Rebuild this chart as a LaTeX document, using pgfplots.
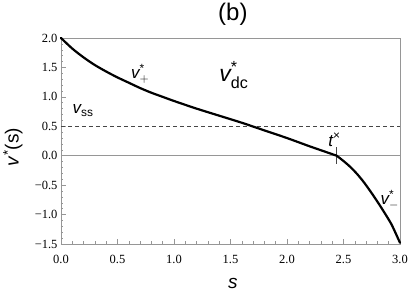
\documentclass[border=0pt]{standalone}
\usepackage{pgfplots}
\pgfplotsset{compat=1.18}
\usepackage{amsmath}
\usepackage{fontspec}
\setmainfont{Liberation Sans}
\newfontfamily\tickfont{Liberation Serif}
\definecolor{framegray}{RGB}{150,150,150}
\definecolor{dashgray}{RGB}{70,70,70}
\begin{document}
\begin{tikzpicture}
\begin{axis}[
 at={(0pt,0pt)}, anchor=south west,
 scale only axis, width=339pt, height=206pt,
 xmin=0, xmax=3, ymin=-1.5, ymax=2,
 xtick={0,0.5,1,1.5,2,2.5,3},
 ytick={-1.5,-1,-0.5,0,0.5,1,1.5,2},
 xticklabels={0.0,0.5,1.0,1.5,2.0,2.5,3.0},
 yticklabels={−1.5,−1.0,−0.5,0.0,0.5,1.0,1.5,2.0},
 minor x tick num=4, minor y tick num=4,
 tick pos=left, tick align=inside,
 major tick length=5pt, minor tick length=2.5pt,
 axis line style={framegray, line width=0.6pt},
 tick style={framegray, line width=0.5pt},
 ticklabel style={font=\tickfont\fontsize{12.5}{12.5}\selectfont},
 xticklabel style={yshift=-8pt},
 xlabel={\textit{s}},
 ylabel={\textit{v}\textsuperscript{*}(s)},
 xlabel style={at={(axis description cs:0.507,-0.194)}, anchor=center, font=\fontsize{19}{19}\selectfont},
 ylabel style={at={(axis description cs:-0.142,0.471)}, anchor=center, font=\fontsize{19}{19}\selectfont},
 title={(b)},
 title style={at={(axis description cs:0.507,1.087)}, anchor=center, font=\fontsize{24}{24}\selectfont},
 clip=false,
]
\addplot[framegray, line width=0.6pt] coordinates {(0,0) (3,0)};
\addplot[dashgray, line width=0.8pt, dash pattern=on 4pt off 3pt] coordinates {(0,0.5) (3,0.5)};
\addplot[dashgray, line width=0.8pt] coordinates {(2.44,-0.14) (2.44,0.14)};
\addplot[black, line width=2.2pt, smooth, line cap=round] coordinates {
(0,2.00) (0.1,1.82) (0.2,1.67) (0.3,1.54) (0.4,1.43) (0.5,1.33) (0.6,1.24) (0.7,1.15) (0.8,1.07) (0.9,1.00) (1.0,0.93) (1.2,0.80) (1.4,0.68) (1.6,0.56) (1.8,0.43) (2.0,0.30) (2.2,0.16) (2.35,0.06) (2.44,0.0)};
\addplot[black, line width=2.2pt, smooth, line cap=round] coordinates {
(2.44,0) (2.5,-0.09) (2.56,-0.19) (2.62,-0.31) (2.68,-0.45) (2.74,-0.61) (2.8,-0.78) (2.86,-0.96) (2.92,-1.15) (2.96,-1.31) (3.0,-1.48)};
\node[font=\fontsize{23}{23}\selectfont] at (axis cs:1.53,1.37) {$\textit{v}^{\text{*}}_{\text{dc}}$};
\node[font=\fontsize{17}{17}\selectfont] at (axis cs:0.70,1.39) {$\textit{v}^{\text{*}}_{+}$};
\node[font=\fontsize{17}{17}\selectfont] at (axis cs:0.195,0.77) {$\textit{v}_{\text{ss}}$};
\node[font=\fontsize{17}{17}\selectfont] at (axis cs:2.42,0.27) {$\textit{t}^{\text{×}}$};
\node[font=\fontsize{17}{17}\selectfont] at (axis cs:2.91,-0.75) {$\textit{v}^{\text{*}}_{-}$};
\end{axis}
\pgfresetboundingbox
\path[use as bounding box] (-61pt,-55pt) rectangle (348pt,244pt);
\end{tikzpicture}
\end{document}
